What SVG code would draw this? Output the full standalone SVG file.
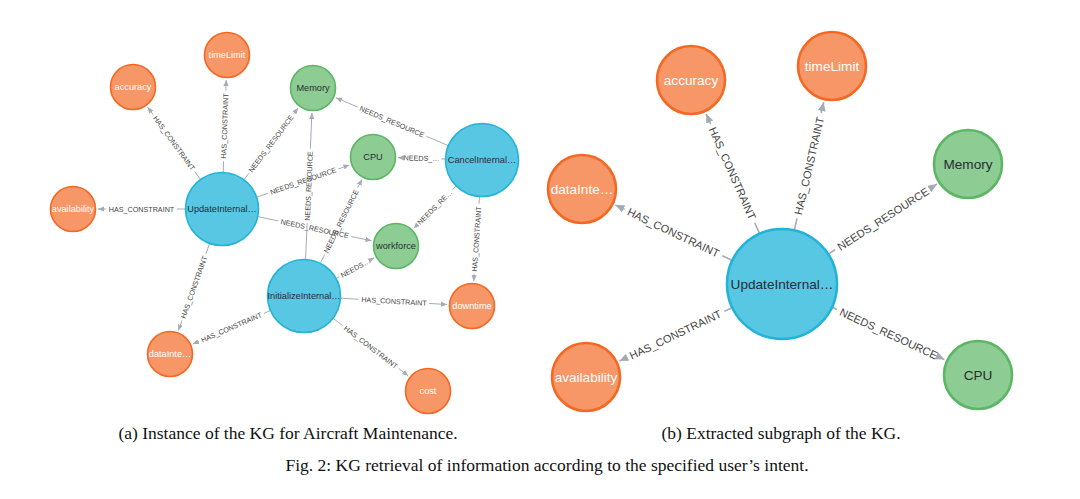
<svg xmlns="http://www.w3.org/2000/svg" width="1080" height="499" viewBox="0 0 1080 499">
<style>
.e{stroke:#A5ABB6;stroke-width:1;fill:none;marker-end:url(#ah)}
.e2{stroke:#A5ABB6;stroke-width:1.6;fill:none;marker-end:url(#ah2)}
.el{font-family:"Liberation Sans",Arial,sans-serif;font-size:7.2px;fill:#444;text-anchor:middle;dominant-baseline:central}
.el2{font-family:"Liberation Sans",Arial,sans-serif;font-size:11px;fill:#444;text-anchor:middle;dominant-baseline:central}
.o{fill:#F79767;stroke:#F36924}
.g{fill:#8DCC93;stroke:#5DB665}
.b{fill:#57C7E3;stroke:#23B3D7}
.s1{stroke-width:1.6}
.s2{stroke-width:2.6}
.nt{font-family:"Liberation Sans",Arial,sans-serif;font-size:9.2px;text-anchor:middle;dominant-baseline:central}
.nt2{font-family:"Liberation Sans",Arial,sans-serif;font-size:13.6px;text-anchor:middle;dominant-baseline:central}
.w{fill:#FFFFFF}
.d{fill:#2A2C34}
.cap{font-family:"Liberation Serif","Times New Roman",serif;font-size:17.5px;fill:#111;text-anchor:middle}
</style>
<defs>
<marker id="ah" markerUnits="userSpaceOnUse" markerWidth="6" markerHeight="6" viewBox="0 0 6 6" refX="6" refY="3" orient="auto"><path d="M0,0.4 L6,3 L0,5.6 z" fill="#A5ABB6"/></marker>
<marker id="ah2" markerUnits="userSpaceOnUse" markerWidth="9" markerHeight="9" viewBox="0 0 9 9" refX="9" refY="4.5" orient="auto"><path d="M0,0.6 L9,4.5 L0,8.4 z" fill="#A5ABB6"/></marker>
</defs>
<rect width="1080" height="499" fill="#FFFFFF"/>

<g id="connectors">
<line class="e" x1="200.2" y1="179.1" x2="147.7" y2="107.2" stroke-dasharray="9.2 70.6 999"/>
<line class="e" x1="223.2" y1="172" x2="226.2" y2="80" stroke-dasharray="10.75 70.6 999"/>
<line class="e" x1="244.2" y1="179.4" x2="298" y2="108" stroke-dasharray="7.4 74.6 999"/>
<line class="e" x1="257" y1="197" x2="349.4" y2="165.1" stroke-dasharray="11.55 74.6 999"/>
<line class="e" x1="185" y1="209" x2="98" y2="209" stroke-dasharray="8.2 70.6 999"/>
<line class="e" x1="258.2" y1="216.7" x2="371.5" y2="240.8" stroke-dasharray="20.65 74.6 999"/>
<line class="e" x1="209.5" y1="243.8" x2="178.4" y2="330.5" stroke-dasharray="10.7 70.6 999"/>
<line class="e" x1="305.6" y1="259" x2="311.9" y2="113" stroke-dasharray="35.8 74.6 999"/>
<line class="e" x1="320.5" y1="262.9" x2="361.9" y2="179.4" stroke-dasharray="9.3 74.6 999"/>
<line class="e" x1="336.5" y1="278.3" x2="374" y2="257.9" stroke-dasharray="3.45 35.8 999"/>
<line class="e" x1="340.9" y1="298.2" x2="447" y2="304.5" stroke-dasharray="17.85 70.6 999"/>
<line class="e" x1="333.4" y1="318.5" x2="408.2" y2="375.8" stroke-dasharray="11.8 70.6 999"/>
<line class="e" x1="270" y1="310.7" x2="192.9" y2="344.1" stroke-dasharray="6.7 70.6 999"/>
<line class="e" x1="448" y1="145.5" x2="336" y2="97.8" stroke-dasharray="23.55 74.6 999"/>
<line class="e" x1="445" y1="159" x2="398" y2="157.7" stroke-dasharray="3.6 39.8 999"/>
<line class="e" x1="455.8" y1="186.2" x2="413.7" y2="228.3" stroke-dasharray="4.9 49.8 999"/>
<line class="e" x1="479.5" y1="196.9" x2="473.7" y2="281.1" stroke-dasharray="6.85 70.6 999"/>

<text class="el" transform="translate(173.95,143.15) rotate(53.9)">HAS_CONSTRAINT</text>
<text class="el" transform="translate(224.7,126) rotate(-88.1)">HAS_CONSTRAINT</text>
<text class="el" transform="translate(271.1,143.7) rotate(-53.1)">NEEDS_RESOURCE</text>
<text class="el" transform="translate(303.2,181) rotate(-19)">NEEDS_RESOURCE</text>
<text class="el" transform="translate(141.5,209)">HAS_CONSTRAINT</text>
<text class="el" transform="translate(314.8,228.7) rotate(12)">NEEDS_RESOURCE</text>
<text class="el" transform="translate(194,287.2) rotate(-70.3)">HAS_CONSTRAINT</text>
<text class="el" transform="translate(308.8,186) rotate(-87.5)">NEEDS_RESOURCE</text>
<text class="el" transform="translate(341.2,221.2) rotate(-63.6)">NEEDS_RESOURCE</text>
<text class="el" transform="translate(355.3,268.1) rotate(-28.5)">NEEDS…</text>
<text class="el" transform="translate(394,301.4) rotate(3.4)">HAS_CONSTRAINT</text>
<text class="el" transform="translate(370.8,347.2) rotate(37.5)">HAS_CONSTRAINT</text>
<text class="el" transform="translate(231.5,327.4) rotate(-23.4)">HAS_CONSTRAINT</text>
<text class="el" transform="translate(392,121.7) rotate(23.1)">NEEDS_RESOURCE</text>
<text class="el" transform="translate(421.5,158.3) rotate(1.6)">NEEDS_…</text>
<text class="el" transform="translate(434.8,207.3) rotate(-45)">NEEDS_RE…</text>
<text class="el" transform="translate(476.6,239) rotate(-86.1)">HAS_CONSTRAINT</text>

<line class="e2" x1="759.2" y1="232.9" x2="706.1" y2="113.8" stroke-dasharray="11.1 108.2 999"/>
<line class="e2" x1="794.5" y1="229.4" x2="823.7" y2="102.1" stroke-dasharray="11.25 108.2 999"/>
<line class="e2" x1="829.1" y1="253.6" x2="936.9" y2="184.1" stroke-dasharray="7.05 114.3 999"/>
<line class="e2" x1="731.4" y1="260" x2="615.4" y2="204.9" stroke-dasharray="10.1 108.2 999"/>
<line class="e2" x1="731.4" y1="308" x2="619.4" y2="361.1" stroke-dasharray="7.85 108.2 999"/>
<line class="e2" x1="832.8" y1="307.6" x2="944.4" y2="359.4" stroke-dasharray="4.4 114.3 999"/>

<text class="el2" transform="translate(732.6,173.3) rotate(66)">HAS_CONSTRAINT</text>
<text class="el2" transform="translate(809.1,165.8) rotate(-77.1)">HAS_CONSTRAINT</text>
<text class="el2" transform="translate(883,218.9) rotate(-32.8)">NEEDS_RESOURCE</text>
<text class="el2" transform="translate(673.4,232.5) rotate(25.4)">HAS_CONSTRAINT</text>
<text class="el2" transform="translate(675.4,334.6) rotate(-25.4)">HAS_CONSTRAINT</text>
<text class="el2" transform="translate(888.6,333.5) rotate(24.9)">NEEDS_RESOURCE</text>
</g>

<g id="a-accuracy"><circle class="o s1" cx="133" cy="87" r="22.5"/><text class="nt w" x="133" y="87">accuracy</text></g>
<g id="a-timeLimit"><circle class="o s1" cx="227" cy="55" r="22.5"/><text class="nt w" x="227" y="55">timeLimit</text></g>
<g id="a-memory"><circle class="g s1" cx="313" cy="88" r="22.5"/><text class="nt d" x="313" y="88">Memory</text></g>
<g id="a-update"><circle class="b s1" cx="222" cy="209" r="36.5"/><text class="nt d" x="222" y="209">UpdateInternal…</text></g>
<g id="a-availability"><circle class="o s1" cx="73" cy="209" r="22.5"/><text class="nt w" x="73" y="209">availability</text></g>
<g id="a-cpu"><circle class="g s1" cx="373" cy="157" r="22.5"/><text class="nt d" x="373" y="157">CPU</text></g>
<g id="a-cancel"><circle class="b s1" cx="482" cy="160" r="36.5"/><text class="nt d" x="482" y="160">CancelInternal…</text></g>
<g id="a-workforce"><circle class="g s1" cx="396" cy="246" r="22.5"/><text class="nt d" x="396" y="246">workforce</text></g>
<g id="a-initialize"><circle class="b s1" cx="304" cy="296" r="36.5"/><text class="nt d" x="304" y="296">InitializeInternal…</text></g>
<g id="a-downtime"><circle class="o s1" cx="472" cy="306" r="22.5"/><text class="nt w" x="472" y="306">downtime</text></g>
<g id="a-cost"><circle class="o s1" cx="428" cy="391" r="22.5"/><text class="nt w" x="428" y="391">cost</text></g>
<g id="a-dataInte"><circle class="o s1" cx="170" cy="354" r="22.5"/><text class="nt w" x="170" y="354">dataInte…</text></g>

<g id="b-accuracy"><circle class="o s2" cx="691" cy="80" r="34"/><text class="nt2 w" x="691" y="80">accuracy</text></g>
<g id="b-timeLimit"><circle class="o s2" cx="832" cy="66" r="34"/><text class="nt2 w" x="832" y="66">timeLimit</text></g>
<g id="b-memory"><circle class="g s2" cx="968" cy="164" r="34"/><text class="nt2 d" x="968" y="164">Memory</text></g>
<g id="b-dataInte"><circle class="o s2" cx="582" cy="189" r="34"/><text class="nt2 w" x="582" y="189">dataInte…</text></g>
<g id="b-update"><circle class="b s2" cx="782" cy="284" r="55"/><text class="nt2 d" x="782" y="284">UpdateInternal…</text></g>
<g id="b-availability"><circle class="o s2" cx="586" cy="377" r="34"/><text class="nt2 w" x="586" y="377">availability</text></g>
<g id="b-cpu"><circle class="g s2" cx="978" cy="375" r="34"/><text class="nt2 d" x="978" y="375">CPU</text></g>

<g id="captions">
<text class="cap" x="288" y="439">(a) Instance of the KG for Aircraft Maintenance.</text>
<text class="cap" x="781" y="439">(b) Extracted subgraph of the KG.</text>
<text class="cap" x="547" y="471">Fig. 2: KG retrieval of information according to the specified user’s intent.</text>
</g>
</svg>
